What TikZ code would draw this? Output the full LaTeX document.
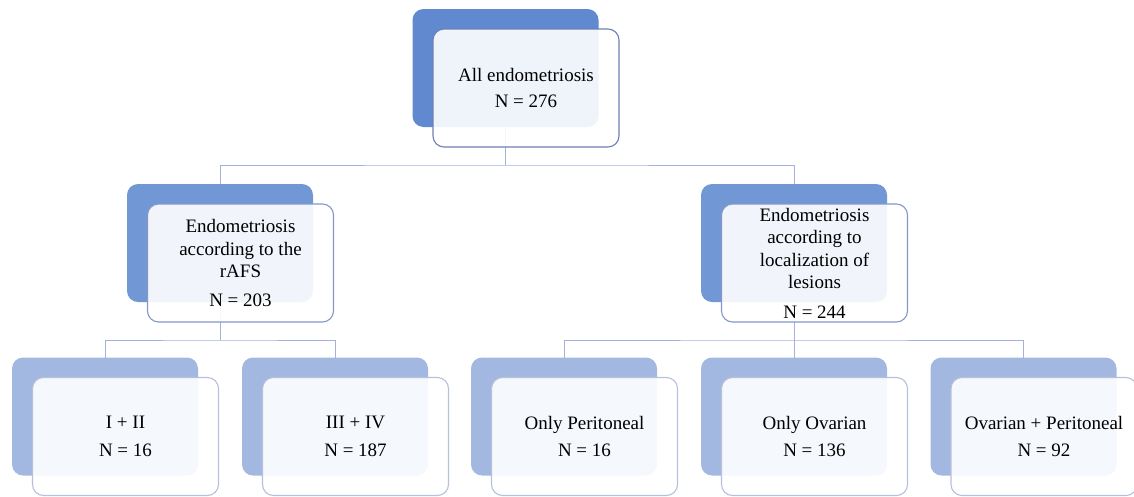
\documentclass[tikz,border=0pt]{standalone}
\usepackage{fontspec}
\setmainfont{Liberation Serif}
\definecolor{backA}{HTML}{6189CF}
\definecolor{backB}{HTML}{7198D4}
\definecolor{backC}{HTML}{A3B8E1}
\definecolor{edgeA}{HTML}{6E7FB6}
\definecolor{edgeB}{HTML}{8597C8}
\definecolor{edgeC}{HTML}{B7C0DA}
\definecolor{wire}{HTML}{A2B2DA}
\tikzset{
  box/.style={rectangle, rounded corners=11pt, minimum width=186pt, minimum height=118pt, inner sep=0pt, outer sep=0pt},
  backbox/.style={box, fill=#1},
  frontbox/.style={box, draw=#1, line width=1.1pt, fill=white, fill opacity=0.9, text opacity=1, align=center, font=\fontsize{19}{22.5}\selectfont},
  wires/.style={draw=wire, line width=1pt}
}
\begin{document}
\begin{tikzpicture}[x=1pt,y=-1pt]
\useasboundingbox (0,0) rectangle (1134,496);
\node[backbox=backA] (allb) at (505.5,68) {};
\node[backbox=backB] (rafsb) at (220,243) {};
\node[backbox=backB] (locb) at (794,243) {};
\node[backbox=backC] (c1b) at (105,416.5) {};
\node[backbox=backC] (c2b) at (335,416.5) {};
\node[backbox=backC] (c3b) at (564,416.5) {};
\node[backbox=backC] (c4b) at (794,416.5) {};
\node[backbox=backC] (c5b) at (1023.5,416.5) {};
\coordinate (j1) at (505.5,165);
\coordinate (j2) at (220,340);
\coordinate (j3) at (794,340);
\draw[wires] (allb.south) -- (j1);
\draw[wires] (rafsb.north) |- (j1) -| (locb.north);
\draw[wires] (rafsb.south) -- (j2);
\draw[wires] (c1b.north) |- (j2) -| (c2b.north);
\draw[wires] (locb.south) -- (c4b.north);
\draw[wires] (c3b.north) |- (j3) -| (c5b.north);
\node[frontbox=edgeA] (all) at ([shift={(20.5,20)}]allb.center) {All endometriosis\\[3pt]N = 276};
\node[frontbox=edgeB] (rafs) at ([shift={(20.5,20)}]rafsb.center) {Endometriosis\\according to the\\rAFS\\[6pt]N = 203};
\node[frontbox=edgeB] (loc) at ([shift={(20.5,20)}]locb.center) {Endometriosis\\according to\\localization of\\lesions\\[7pt]N = 244};
\node[frontbox=edgeC] (c1) at ([shift={(20.5,20)}]c1b.center) {I + II\\[5pt]N = 16};
\node[frontbox=edgeC] (c2) at ([shift={(20.5,20)}]c2b.center) {III + IV\\[5pt]N = 187};
\node[frontbox=edgeC] (c3) at ([shift={(20.5,20)}]c3b.center) {Only Peritoneal\\[5pt]N = 16};
\node[frontbox=edgeC] (c4) at ([shift={(20.5,20)}]c4b.center) {Only Ovarian\\[5pt]N = 136};
\node[frontbox=edgeC] (c5) at ([shift={(20.5,20)}]c5b.center) {Ovarian + Peritoneal\\[5pt]N = 92};
\end{tikzpicture}
\end{document}
